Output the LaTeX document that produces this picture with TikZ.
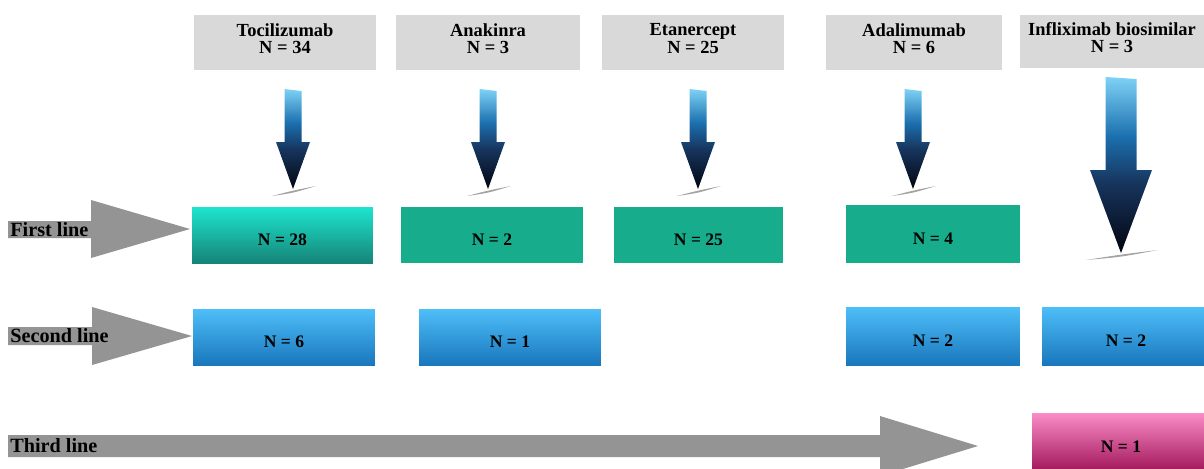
\documentclass[tikz,border=0pt]{standalone}
\usepackage{fontspec}
\setmainfont{Liberation Serif}
\usetikzlibrary{positioning}
\definecolor{headgray}{HTML}{D9D9D9}
\definecolor{linegray}{HTML}{949494}
\definecolor{tealflat}{HTML}{17AD8C}
\definecolor{tealtop}{HTML}{1DE5CF}
\definecolor{tealbot}{HTML}{168477}
\definecolor{bluetop}{HTML}{4EBEF8}
\definecolor{bluebot}{HTML}{1977BD}
\definecolor{pinktop}{HTML}{FA8CC7}
\definecolor{pinkbot}{HTML}{A3195C}
\definecolor{arrtop}{HTML}{7ED2F6}
\definecolor{arrmid}{HTML}{1B6FAE}
\definecolor{arrnavy}{HTML}{17355E}
\definecolor{arrbot}{HTML}{02050F}
\pgfdeclareverticalshading{dnshade}{100bp}{color(0bp)=(arrbot); color(25bp)=(arrbot);
	color(45bp)=(arrnavy); color(58bp)=(arrmid); color(75bp)=(arrtop); color(100bp)=(arrtop)}
\tikzset{
	drug/.style={fill=headgray, minimum height=1.1cm, align=center, inner sep=0pt,
		text depth=4.5pt, font=\bfseries\fontsize{10.5}{10}\selectfont},
	count/.style={minimum height=1.12cm, inner sep=0pt, text height=12pt, text depth=0pt,
		font=\bfseries\fontsize{10}{12}\selectfont},
	first/.style={count, fill=tealflat},
	second/.style={count, top color=bluetop, bottom color=bluebot},
	rowlab/.style={anchor=west, inner sep=0pt, font=\bfseries\fontsize{11.5}{12}\selectfont},
}
% #1 centre, #2 top, #3 start of head, #4 tip, #5 half shaft, #6 half head
\newcommand{\dnarrow}[6]{
	\fill[black!60, opacity=.6] (#1-#6-4,#4+7) .. controls (#1,#4+1.5) .. (#1+#6+6,#4-3)
		.. controls (#1,#4+4) .. cycle;
	\path[shading=dnshade]
		(#1-#5,#2) -- (#1+#5,#2+2) -- (#1+#5,#3) -- (#1+#6,#3) -- (#1,#4)
		-- (#1-#6,#3) -- (#1-#5,#3) -- cycle;
}
\begin{document}
\begin{tikzpicture}[x=0.02cm,y=-0.02cm]
	\useasboundingbox (0,0) rectangle (1204,468);
	\clip (0,0) rectangle (1204,468);
	% drugs
	\node[drug, minimum width=3.64cm] (toci) at (285,42.5) {Tocilizumab\\N = 34};
	\node[drug, minimum width=3.68cm] (anak) at (488,42.5) {Anakinra\\N = 3};
	\node[drug, minimum width=3.64cm] (etan) at (693,42.5) {Etanercept\\N = 25};
	\node[drug, minimum width=3.52cm] (adal) at (914,42.5) {Adalimumab\\N = 6};
	\node[drug, minimum width=3.68cm, minimum height=1.06cm] (infl) at (1112,41.5) {Infliximab biosimilar\\N = 3};
	\dnarrow{293}{89}{142}{189}{8.5}{17}
	\dnarrow{488}{89}{142}{189}{8.5}{17}
	\dnarrow{698}{89}{142}{189}{8.5}{17}
	\dnarrow{913}{89}{142}{189}{8.5}{17}
	\dnarrow{1121}{77}{170}{253}{15.5}{31}
	% row arrows
	\fill[linegray] (8,221) -- (91,221) -- (91,200) -- (190,229) -- (91,258) -- (91,238) -- (8,238) -- cycle;
	\fill[linegray] (8,327) -- (92,327) -- (92,307) -- (192,336) -- (92,365) -- (92,345) -- (8,345) -- cycle;
	\fill[linegray] (8,435) -- (880,435) -- (880,416) -- (978,446) -- (880,476) -- (880,457) -- (8,457) -- cycle;
	\node[rowlab] (l1) at (10,229.5) {First line};
	\node[rowlab] (l2) at (10,336) {Second line};
	\node[rowlab] (l3) at (10,446) {Third line};
	% first line
	\node[count, minimum width=3.62cm, top color=tealtop, bottom color=tealbot] (f1) at (282.5,235) {N = 28};
	\node[first, minimum width=3.64cm] (f2) at (492,235) {N = 2};
	\node[first, minimum width=3.38cm] (f3) at (698.5,235) {N = 25};
	\node[first, minimum width=3.48cm, minimum height=1.16cm] (f4) at (933,234) {N = 4};
	% second line
	\node[second, minimum width=3.64cm] (s1) at (284,337) {N = 6};
	\node[second, minimum width=3.64cm] (s2) at (510,337) {N = 1};
	\node[second, minimum width=3.48cm, minimum height=1.16cm] (s4) at (933,336) {N = 2};
	\node[second, minimum width=3.36cm, minimum height=1.16cm] (s5) at (1126,336) {N = 2};
	% third line
	\node[count, minimum width=3.56cm, minimum height=1.14cm, top color=pinktop, bottom color=pinkbot] (t5) at (1121,441.5) {N = 1};
\end{tikzpicture}
\end{document}
